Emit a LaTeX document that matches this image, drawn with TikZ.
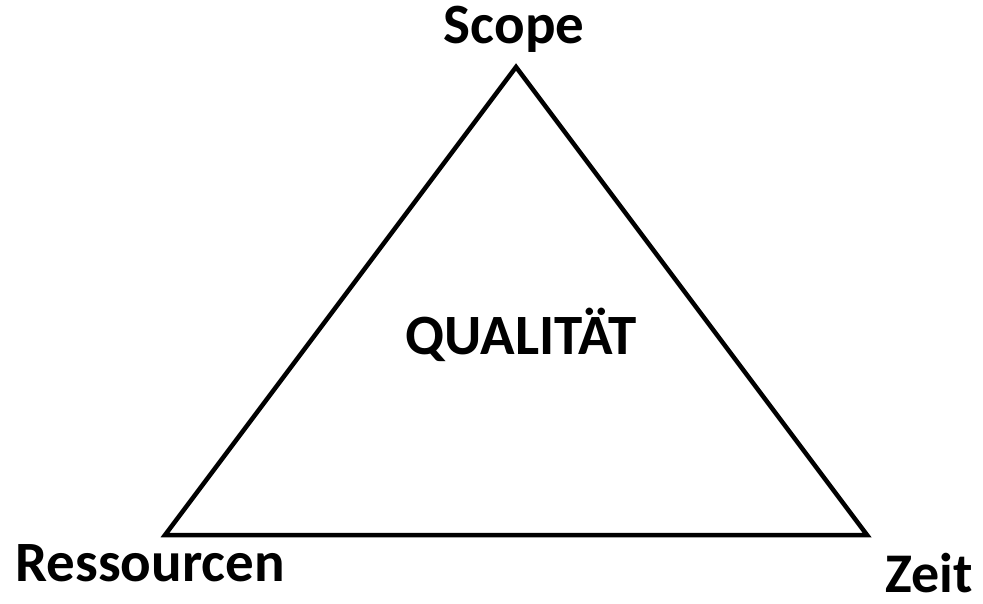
\documentclass[tikz,border=0pt]{standalone}
\usepackage{fontspec}
\setmainfont{Carlito}
\begin{document}
\begin{tikzpicture}[x=1pt,y=1pt,
  lbl/.style={font=\fontsize{57}{62}\selectfont\bfseries, anchor=base, inner sep=0pt}]
\useasboundingbox (0,0) rectangle (983,603);
\coordinate (top) at (516,536);
\coordinate (bl) at (165,68);
\coordinate (br) at (867,68);
\draw[line width=4.5pt, line join=miter] (top) -- (bl) -- (br) -- cycle;
\node[lbl] (scope) at (514,559) {Scope};
\node[lbl] (res) at (150,22) {Ressourcen};
\node[lbl, font=\fontsize{56}{60}\selectfont\bfseries] (zeit) at (929,11) {Zeit};
\node[lbl] (q) at (521,248) {QUALITÄT};
\end{tikzpicture}
\end{document}
